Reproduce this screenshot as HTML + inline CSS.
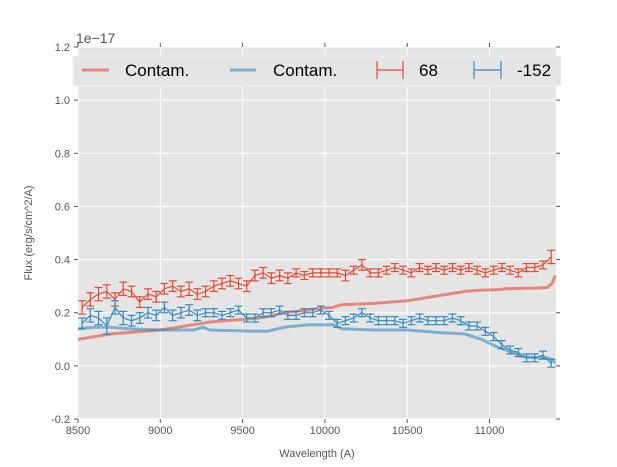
<!DOCTYPE html>
<html><head><meta charset="utf-8"><style>
body{margin:0;background:#fff;font-family:"Liberation Sans",sans-serif}
svg{display:block}
</style></head><body>
<svg id="chart" width="617" height="467" viewBox="0 0 617 467" xmlns="http://www.w3.org/2000/svg">
<rect x="78" y="47" width="478" height="372" fill="#e5e5e5"/>
<g id="grid"></g><g id="series"></g><g id="axes"></g>
<text x="76" y="43" font-size="14" fill="#555">1e−17</text>
<text x="317" y="457" font-size="11" fill="#555" text-anchor="middle">Wavelength (A)</text>
<text x="32" y="233" font-size="11" fill="#555" text-anchor="middle" transform="rotate(-90 32 233)">Flux (erg/s/cm^2/A)</text>
<g>
<rect x="73" y="56" width="488" height="30" fill="#e5e5e5" stroke="#f2f2f2" stroke-width="1"/>
<line x1="82" y1="70" x2="109" y2="70" stroke="#E24A33" stroke-opacity="0.6" stroke-width="3"/>
<text x="125" y="76" font-size="17" fill="#000">Contam.</text>
<line x1="230" y1="70" x2="256" y2="70" stroke="#348ABD" stroke-opacity="0.6" stroke-width="3"/>
<text x="273" y="76" font-size="17" fill="#000">Contam.</text>
<g stroke="#E24A33" stroke-width="1.2"><line x1="377" y1="70" x2="403" y2="70"/><line x1="377" y1="61" x2="377" y2="79"/><line x1="403" y1="61" x2="403" y2="79"/></g>
<text x="419" y="76" font-size="17" fill="#000">68</text>
<g stroke="#348ABD" stroke-width="1.2"><line x1="474" y1="70" x2="501" y2="70"/><line x1="474" y1="61" x2="474" y2="79"/><line x1="501" y1="61" x2="501" y2="79"/></g>
<text x="517" y="76" font-size="17" fill="#000">-152</text>
</g>
</svg>
<script>
const xTicks=[8500,9000,9500,10000,10500,11000];
const yTicks=[-0.2,0.0,0.2,0.4,0.6,0.8,1.0,1.2];
const wave=[8525,8575,8625,8675,8725,8775,8825,8875,8925,8975,9025,9075,9125,9175,9225,9275,9325,9375,9425,9475,9525,9575,9625,9675,9725,9775,9825,9875,9925,9975,10025,10075,10125,10175,10225,10275,10325,10375,10425,10475,10525,10575,10625,10675,10725,10775,10825,10875,10925,10975,11025,11075,11125,11175,11225,11275,11325,11375];
const red68=[0.22,0.25,0.27,0.28,0.25,0.29,0.28,0.24,0.27,0.26,0.29,0.30,0.28,0.29,0.27,0.28,0.30,0.31,0.32,0.31,0.30,0.34,0.35,0.33,0.34,0.33,0.35,0.34,0.35,0.35,0.35,0.35,0.34,0.36,0.38,0.35,0.35,0.36,0.37,0.36,0.35,0.37,0.36,0.37,0.36,0.37,0.36,0.37,0.36,0.35,0.36,0.37,0.36,0.35,0.37,0.37,0.38,0.41];
const blue152=[0.16,0.19,0.18,0.15,0.22,0.18,0.17,0.18,0.20,0.19,0.22,0.19,0.20,0.21,0.19,0.20,0.20,0.19,0.20,0.21,0.18,0.18,0.20,0.20,0.21,0.19,0.19,0.20,0.20,0.21,0.19,0.16,0.17,0.18,0.20,0.18,0.17,0.17,0.17,0.16,0.17,0.18,0.17,0.17,0.17,0.18,0.17,0.15,0.15,0.13,0.11,0.08,0.06,0.05,0.03,0.03,0.04,0.01];
const redErr=[0.025,0.025,0.025,0.025,0.025,0.025,0.02,0.02,0.02,0.02,0.02,0.02,0.02,0.025,0.02,0.02,0.02,0.02,0.02,0.02,0.02,0.02,0.02,0.02,0.02,0.02,0.015,0.015,0.015,0.015,0.015,0.015,0.02,0.015,0.02,0.015,0.015,0.015,0.015,0.015,0.015,0.015,0.015,0.015,0.015,0.015,0.015,0.015,0.015,0.015,0.015,0.015,0.015,0.015,0.015,0.015,0.015,0.025];
const blueErr=[0.02,0.025,0.025,0.03,0.025,0.025,0.02,0.02,0.02,0.02,0.02,0.02,0.02,0.02,0.02,0.015,0.015,0.015,0.015,0.015,0.015,0.015,0.015,0.015,0.015,0.015,0.015,0.015,0.015,0.015,0.015,0.015,0.015,0.015,0.015,0.015,0.015,0.015,0.015,0.015,0.015,0.015,0.015,0.015,0.015,0.015,0.015,0.015,0.015,0.015,0.015,0.015,0.015,0.015,0.015,0.015,0.015,0.015];
const contamWave=[8500,8600,8700,8800,9000,9200,9260,9300,9400,9600,9650,9750,9900,9950,10050,10100,10300,10500,10700,10850,10950,11050,11100,11200,11300,11350,11380,11400];
const contamRed=[0.10,0.11,0.12,0.125,0.135,0.155,0.16,0.165,0.17,0.18,0.185,0.20,0.21,0.215,0.22,0.23,0.235,0.245,0.265,0.28,0.285,0.287,0.29,0.292,0.293,0.295,0.31,0.34];
const contamBlue=[0.14,0.145,0.145,0.14,0.135,0.135,0.145,0.135,0.133,0.13,0.13,0.145,0.155,0.155,0.155,0.14,0.135,0.135,0.125,0.12,0.10,0.07,0.06,0.035,0.03,0.03,0.025,0.01];
const NS="http://www.w3.org/2000/svg";
const X0=78,X1=556,Y0=419,Y1=47,XMIN=8500,XMAX=11404,YMIN=-0.2,YMAX=1.2;
function sx(v){return X0+(v-XMIN)/(XMAX-XMIN)*(X1-X0);}
function sy(v){return Y0-(v-YMIN)/(YMAX-YMIN)*(Y0-Y1);}
function mk(tag,attrs,parent){const e=document.createElementNS(NS,tag);for(const k in attrs)e.setAttribute(k,attrs[k]);parent.appendChild(e);return e;}
const grid=document.getElementById('grid'),axes=document.getElementById('axes'),ser=document.getElementById('series');
xTicks.forEach(t=>{const x=sx(t);
 const g=mk('line',{x1:x,x2:x,y1:Y1,y2:Y0,stroke:'#fff','stroke-width':1},grid);
 
 
 mk('line',{x1:x,x2:x,y1:Y0,y2:Y0+4,stroke:'#555'},axes);
 mk('line',{x1:x,x2:x,y1:Y1,y2:Y1-4,stroke:'#555'},axes);
 const l=mk('text',{x:x,y:Y0+15,'font-size':11,fill:'#555','text-anchor':'middle'},axes);l.textContent=t;
 
 });
yTicks.forEach(t=>{const y=sy(t);
 const g=mk('line',{x1:X0,x2:X1,y1:y,y2:y,stroke:'#fff','stroke-width':1},grid);
 
 
 mk('line',{x1:X0,x2:X0-4,y1:y,y2:y,stroke:'#555'},axes);
 mk('line',{x1:X1,x2:X1+4,y1:y,y2:y,stroke:'#555'},axes);
 const l=mk('text',{x:X0-8,y:y+4,'font-size':11,fill:'#555','text-anchor':'end'},axes);l.textContent=t.toFixed(1);
 
 });
function line(xs,ys,color,name){const d=xs.map((v,i)=>(i?'L':'M')+sx(v).toFixed(1)+' '+sy(ys[i]).toFixed(1)).join('');
 const p=mk('path',{d:d,fill:'none',stroke:color,'stroke-opacity':0.6,'stroke-width':3,'stroke-linejoin':'round'},ser);
 
 }
function errs(ys,es,color,name){const g=mk('g',{stroke:color,'stroke-width':1.2,fill:'none'},ser);
 
 
 const d=wave.map((v,i)=>(i?'L':'M')+sx(v).toFixed(1)+' '+sy(ys[i]).toFixed(1)).join('');
 mk('path',{d:d},g);
 wave.forEach((v,i)=>{const x=sx(v),a=sy(ys[i]-es[i]),b=sy(ys[i]+es[i]);
  mk('line',{x1:x,x2:x,y1:a,y2:b},g);
  mk('line',{x1:x-4,x2:x+4,y1:a,y2:a},g);
  mk('line',{x1:x-4,x2:x+4,y1:b,y2:b},g);});}
line(contamWave,contamRed,'#E24A33','contam-red-line');
line(contamWave,contamBlue,'#348ABD','contam-blue-line');
errs(red68,redErr,'#E24A33','series-68-errorbars');
errs(blue152,blueErr,'#348ABD','series-152-errorbars');
</script>
</body></html>
